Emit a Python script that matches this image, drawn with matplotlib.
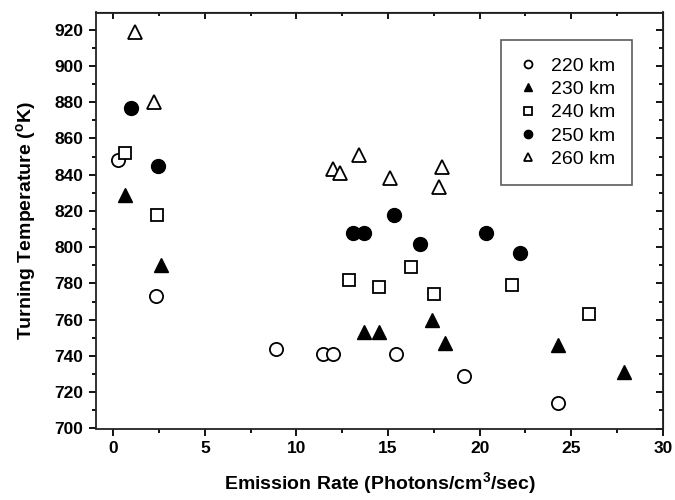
import matplotlib.pyplot as plt
from matplotlib.ticker import MultipleLocator

plt.rcParams["font.family"] = ["Liberation Sans", "DejaVu Sans"]
plt.rcParams["mathtext.default"] = "regular"

# emission rate (photons/cm3/sec) and turning temperature (K) per altitude
x_220 = [0.25, 2.35, 8.9, 11.45, 12.0, 15.45, 19.15, 24.3]
y_220 = [848, 773, 744, 741, 741, 741, 729, 714]

x_230 = [0.65, 2.6, 13.7, 14.5, 17.4, 18.1, 24.3, 27.9]
y_230 = [829, 790, 753, 753, 760, 747, 746, 731]

x_240 = [0.65, 2.4, 12.85, 14.5, 16.25, 17.5, 21.75, 25.95]
y_240 = [852, 818, 782, 778, 789, 774, 779, 763]

x_250 = [0.95, 2.45, 13.1, 13.7, 15.3, 16.75, 20.35, 22.2]
y_250 = [877, 845, 808, 808, 818, 802, 808, 797]

x_260 = [1.2, 2.25, 12.0, 12.35, 13.4, 15.1, 17.95, 17.8]
y_260 = [919, 880, 843, 841, 851, 838, 844, 833]

fig = plt.figure(figsize=(6.75, 5), dpi=100)
ax = fig.add_axes([0.142, 0.143, 0.840, 0.832])

ax.plot(x_220, y_220, "o", ms=9.5, mfc="white", mec="black", mew=1.3, ls="none", label="220 km")
ax.plot(x_230, y_230, "^", ms=10.5, color="black", ls="none", label="230 km")
ax.plot(x_240, y_240, "s", ms=8.5, mfc="white", mec="black", mew=1.3, ls="none", label="240 km")
ax.plot(x_250, y_250, "o", ms=10, color="black", ls="none", label="250 km")
ax.plot(x_260, y_260, "^", ms=10.5, mfc="white", mec="black", mew=1.3, ls="none", label="260 km")

ax.set_xlim(-0.95, 30)
ax.set_ylim(700, 929.5)
ax.xaxis.set_major_locator(MultipleLocator(5))
ax.xaxis.set_minor_locator(MultipleLocator(2.5))
ax.yaxis.set_major_locator(MultipleLocator(20))
ax.yaxis.set_minor_locator(MultipleLocator(10))

for s in ax.spines.values():
    s.set_linewidth(1.3)
    s.set_color("#222222")

ax.tick_params(which="major", direction="out", length=5, width=1.3, labelsize=12.5, pad=4)
ax.tick_params(which="minor", direction="out", length=3, width=1.3)
for lab in ax.get_xticklabels() + ax.get_yticklabels():
    lab.set_fontweight("bold")

# mirrored inward ticks on top and right
top = ax.secondary_xaxis("top")
top.xaxis.set_major_locator(MultipleLocator(5))
top.xaxis.set_minor_locator(MultipleLocator(2.5))
top.tick_params(which="major", direction="in", length=5, width=1.3, labeltop=False)
top.tick_params(which="minor", direction="in", length=3, width=1.3)
right = ax.secondary_yaxis("right")
right.yaxis.set_major_locator(MultipleLocator(20))
right.yaxis.set_minor_locator(MultipleLocator(10))
right.tick_params(which="major", direction="in", length=5, width=1.3, labelright=False)
right.tick_params(which="minor", direction="in", length=3, width=1.3)

ax.set_xlabel("Emission Rate (Photons/cm$^3$/sec)", fontsize=14, fontweight="bold", labelpad=10)
ax.set_ylabel("Turning Temperature ($^o$K)", fontsize=14, fontweight="bold", labelpad=12)

leg = ax.legend(loc="upper right", bbox_to_anchor=(0.945, 0.933), fontsize=14,
                markerscale=0.6, frameon=True, fancybox=False, edgecolor="#333333",
                handletextpad=0.7, labelspacing=0.3, borderpad=0.85, handlelength=1.0,
                borderaxespad=0)
leg.get_frame().set_linewidth(1.2)

plt.savefig("out.png", dpi=100)
